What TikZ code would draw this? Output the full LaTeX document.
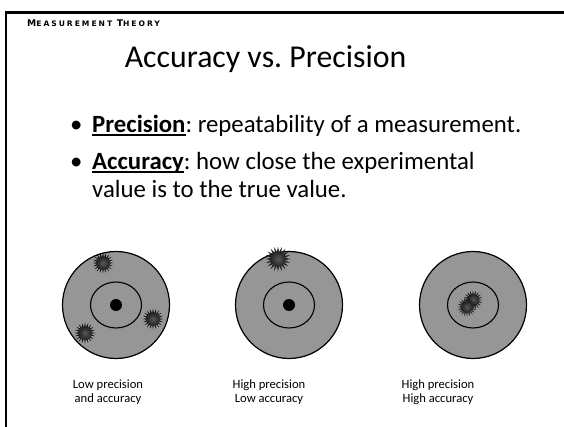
\documentclass[tikz,border=0pt]{standalone}
\usepackage{fontspec}
\setmainfont{Carlito}
\newfontfamily\headfont{DejaVu Sans}[LetterSpace=26]
\usetikzlibrary{shapes.geometric}
\definecolor{targetgray}{RGB}{150,150,150}
\frenchspacing

% bold word with a thick rule under it
\newcommand\ulword[1]{\setbox0\hbox{\textbf{#1}}\rlap{\rule[-2.8pt]{\wd0}{1.6pt}}\box0}

\tikzset{
  target/.style={circle, draw=black, line width=1.2pt, fill=targetgray, minimum size=107pt, inner sep=0pt},
  ring/.style={ellipse, draw=black, line width=1.1pt, minimum width=51pt, minimum height=46pt, inner sep=0pt},
  bullseye/.style={circle, fill=black, minimum size=12pt, inner sep=0pt},
  hole/.style={star, star points=20, star point ratio=1.8, minimum size=#1, inner sep=0pt,
    shading=radial, inner color=gray!70!black, outer color=black},
  hole/.default=21pt,
  bodytext/.style={inner sep=0pt, font=\fontsize{24.8}{28}\selectfont},
  caption/.style={inner sep=0pt, align=center, font=\fontsize{12.6}{14.5}\selectfont}
}

\begin{document}
\begin{tikzpicture}[x=1pt, y=-1pt]
        \useasboundingbox (0,0) rectangle (564,427);

        % slide frame
        \draw[line width=2.5pt] (6,427) |- (564,12.5);

        % header and title
        \node[inner sep=0pt, anchor=base west] (head) at (27,27)
          {\headfont\bfseries\fontsize{9.2}{10}\selectfont M\fontsize{7.6}{10}\selectfont EASUREMENT
           \fontsize{9.2}{10}\selectfont T\fontsize{7.6}{10}\selectfont HEORY};
        \node[inner sep=0pt, anchor=base, font=\fontsize{31.8}{36}\selectfont] (title) at (265.5,68) {Accuracy vs. Precision};

        % bullets (multi-line nodes sit on their last baseline)
        \node[bodytext, anchor=base west] (dot1) at (70,133) {•};
        \node[bodytext, anchor=base west] (prec) at (92,133) {\ulword{Precision}: repeatability of a measurement.};
        \node[bodytext, anchor=base west] (dot2) at (70,170) {•};
        \node[bodytext, anchor=base west, align=left] (acc) at (92,198)
          {\ulword{Accuracy}: how close the experimental\\value is to the true value.};

        % target centres
        \coordinate (c1) at (116,305);
        \coordinate (c2) at (289,305);
        \coordinate (c3) at (473,305);

        % targets
        \foreach \c in {1,2,3} {
          \node[target] (t\c) at (c\c) {};
          \node[ring] (r\c) at (c\c) {};
        }
        \node[bullseye] (e1) at (c1) {};
        \node[bullseye] (e2) at (c2) {};

        % hits
        \node[hole] (h1) at (103,263) {};
        \node[hole] (h2) at (153,319) {};
        \node[hole] (h3) at (85,333) {};
        \node[hole=25pt] (h4) at (278,259) {};
        \node[hole=19pt] (h5) at (473,300) {};
        \node[hole=19pt] (h6) at (467,307) {};

        % captions
        \node[caption, anchor=base] (cap1) at (108,402.5) {Low precision\\and accuracy};
        \node[caption, anchor=base] (cap2) at (269,402.5) {High precision\\Low accuracy};
        \node[caption, anchor=base] (cap3) at (438,402.5) {High precision\\High accuracy};

    \end{tikzpicture}
\end{document}
